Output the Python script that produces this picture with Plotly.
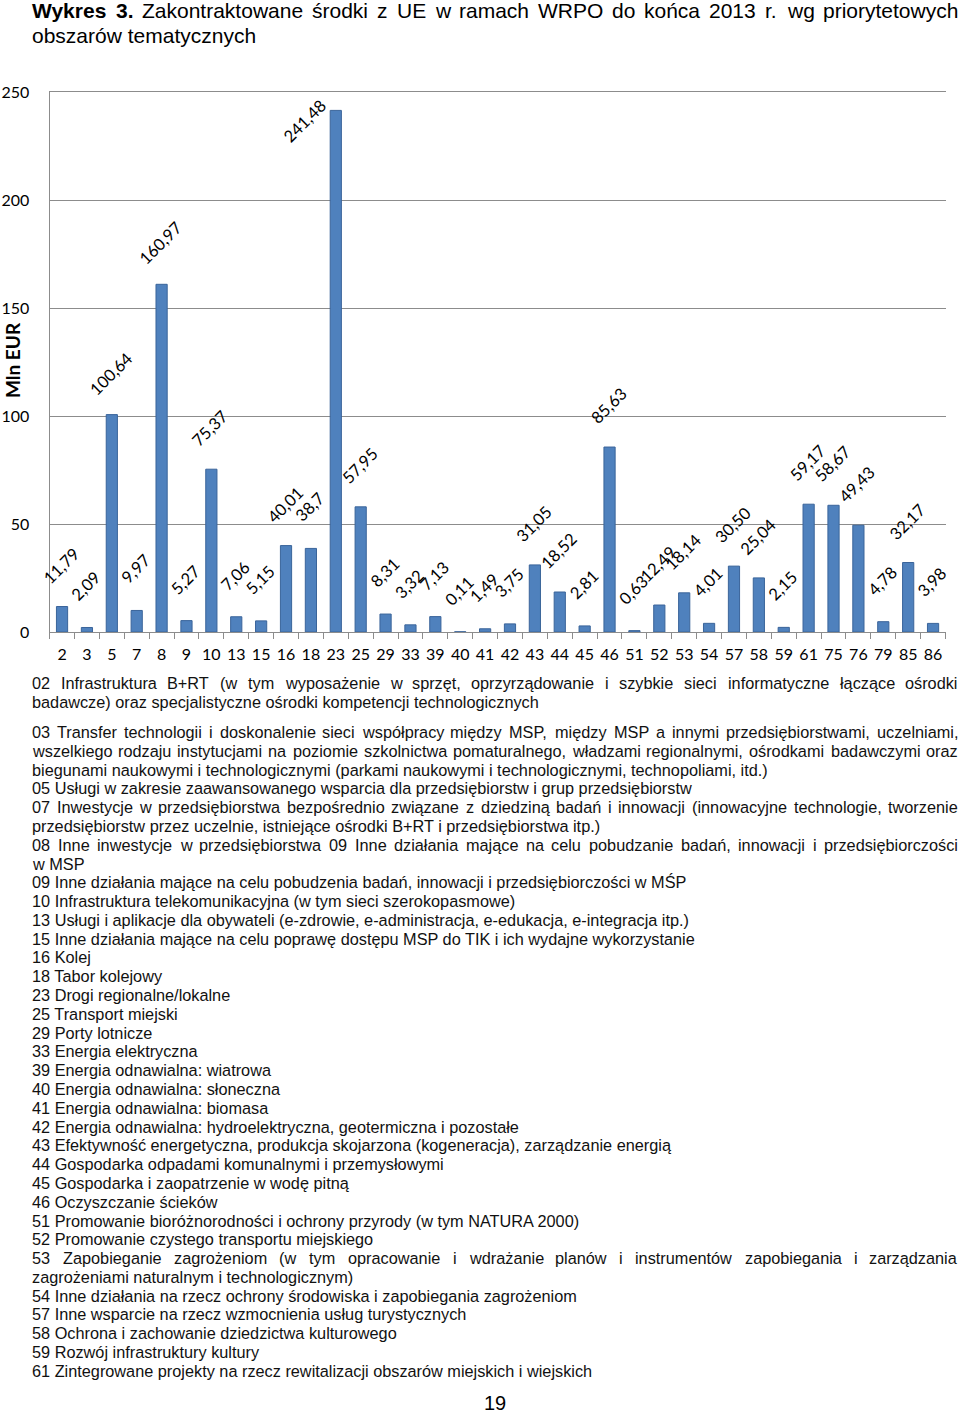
import plotly.graph_objects as go

# ---------------- data ----------------
categories = ["2", "3", "5", "7", "8", "9", "10", "13", "15", "16", "18", "23", "25",
              "29", "33", "39", "40", "41", "42", "43", "44", "45", "46", "51", "52",
              "53", "54", "57", "58", "59", "61", "75", "76", "79", "85", "86"]
values = [11.79, 2.09, 100.64, 9.97, 160.97, 5.27, 75.37, 7.06, 5.15, 40.01, 38.7,
          241.48, 57.95, 8.31, 3.32, 7.13, 0.11, 1.49, 3.75, 31.05, 18.52, 2.81,
          85.63, 0.63, 12.49, 18.14, 4.01, 30.50, 25.04, 2.15, 59.17, 58.67, 49.43,
          4.78, 32.17, 3.98]
value_labels = ["11,79", "2,09", "100,64", "9,97", "160,97", "5,27", "75,37", "7,06",
                "5,15", "40,01", "38,7", "241,48", "57,95", "8,31", "3,32", "7,13",
                "0,11", "1,49", "3,75", "31,05", "18,52", "2,81", "85,63", "0,63",
                "12,49", "18,14", "4,01", "30,50", "25,04", "2,15", "59,17", "58,67",
                "49,43", "4,78", "32,17", "3,98"]
y_ticks = [0, 50, 100, 150, 200, 250]

title_bold = "Wykres 3."
title_rest = "Zakontraktowane środki z UE w ramach WRPO do końca 2013 r. wg priorytetowych"
title_line2 = "obszarów tematycznych"
y_title = "Mln EUR"
page_number = "19"

legend_lines = [
    "02 Infrastruktura B+RT (w tym wyposażenie w sprzęt, oprzyrządowanie i szybkie sieci informatyczne łączące ośrodki",
    "badawcze) oraz specjalistyczne ośrodki kompetencji technologicznych",
    "",
    "03 Transfer technologii i doskonalenie sieci współpracy między MSP, między MSP a innymi przedsiębiorstwami, uczelniami,",
    "wszelkiego rodzaju instytucjami na poziomie szkolnictwa pomaturalnego, władzami regionalnymi, ośrodkami badawczymi oraz",
    "biegunami naukowymi i technologicznymi (parkami naukowymi i technologicznymi, technopoliami, itd.)",
    "05 Usługi w zakresie zaawansowanego wsparcia dla przedsiębiorstw i grup przedsiębiorstw",
    "07 Inwestycje w przedsiębiorstwa bezpośrednio związane z dziedziną badań i innowacji (innowacyjne technologie, tworzenie",
    "przedsiębiorstw przez uczelnie, istniejące ośrodki B+RT i przedsiębiorstwa itp.)",
    "08 Inne inwestycje w przedsiębiorstwa 09 Inne działania mające na celu pobudzanie badań, innowacji i przedsiębiorczości",
    "w MSP",
    "09 Inne działania mające na celu pobudzenia badań, innowacji i przedsiębiorczości w MŚP",
    "10 Infrastruktura telekomunikacyjna (w tym sieci szerokopasmowe)",
    "13 Usługi i aplikacje dla obywateli (e-zdrowie, e-administracja, e-edukacja, e-integracja itp.)",
    "15 Inne działania mające na celu poprawę dostępu MSP do TIK i ich wydajne wykorzystanie",
    "16 Kolej",
    "18 Tabor kolejowy",
    "23 Drogi regionalne/lokalne",
    "25 Transport miejski",
    "29 Porty lotnicze",
    "33 Energia elektryczna",
    "39 Energia odnawialna: wiatrowa",
    "40 Energia odnawialna: słoneczna",
    "41 Energia odnawialna: biomasa",
    "42 Energia odnawialna: hydroelektryczna, geotermiczna i pozostałe",
    "43 Efektywność energetyczna, produkcja skojarzona (kogeneracja), zarządzanie energią",
    "44 Gospodarka odpadami komunalnymi i przemysłowymi",
    "45 Gospodarka i zaopatrzenie w wodę pitną",
    "46 Oczyszczanie ścieków",
    "51 Promowanie bioróżnorodności i ochrony przyrody (w tym NATURA 2000)",
    "52 Promowanie czystego transportu miejskiego",
    "53 Zapobieganie zagrożeniom (w tym opracowanie i wdrażanie planów i instrumentów zapobiegania i zarządzania",
    "zagrożeniami naturalnym i technologicznym)",
    "54 Inne działania na rzecz ochrony środowiska i zapobiegania zagrożeniom",
    "57 Inne wsparcie na rzecz wzmocnienia usług turystycznych",
    "58 Ochrona i zachowanie dziedzictwa kulturowego",
    "59 Rozwój infrastruktury kultury",
    "61 Zintegrowane projekty na rzecz rewitalizacji obszarów miejskich i wiejskich",
]
justified_lines = {0, 3, 4, 7, 9, 31}

# ---------------- layout geometry (page pixels) ----------------
FW, FH = 960, 1414
PLOT_L, PLOT_R = 49.6, 945.5
PLOT_T, PLOT_B = 92, 632
TEXT_L, TEXT_R = 32, 958
YMAX = 250
px_per_unit = (PLOT_B - PLOT_T) / YMAX


def fx(xpx):
    return xpx / FW


def fy(ypx):
    return 1 - ypx / FH


# Arial / Liberation Sans advance widths (1/1000 em)
_W = {" ": 278, "!": 278, "(": 333, ")": 333, "+": 584, ",": 278, "-": 333, ".": 278,
      "/": 278, ":": 278}
_W.update({d: 556 for d in "0123456789"})
_W.update(dict(zip("ABCDEFGHIJKLMNOPQRSTUVWXYZ",
                   [667, 667, 722, 722, 667, 611, 778, 722, 278, 500, 667, 556, 833,
                    722, 778, 667, 778, 722, 667, 611, 722, 667, 944, 667, 667, 611])))
_W.update(dict(zip("abcdefghijklmnopqrstuvwxyz",
                   [556, 556, 500, 556, 556, 278, 556, 556, 222, 222, 500, 222, 833,
                    556, 556, 556, 556, 333, 500, 278, 556, 500, 722, 500, 500, 500])))
_W.update({"ą": 556, "ć": 500, "ę": 556, "ł": 222, "ń": 556, "ó": 556, "ś": 500,
           "ź": 500, "ż": 500, "Ś": 667, "Ł": 556, "Ż": 611})
# Arial Bold widths for the glyphs used in bold text
_WB = {"W": 944, "y": 556, "k": 556, "r": 389, "e": 556, "s": 556, "3": 556, ".": 278}


def text_width(s, size, bold=False):
    tab = _WB if bold else _W
    return sum(tab.get(c, _W.get(c, 556)) for c in s) * size / 1000.0


def justified(words, bold_flags, y_px, size, family):
    """Place words of one justified line as separate text annotations."""
    out = []
    widths = [text_width(w, size, b) for w, b in zip(words, bold_flags)]
    gap = (TEXT_R - TEXT_L - sum(widths)) / (len(words) - 1)
    xcur = TEXT_L
    for k, (w, wd, b) in enumerate(zip(words, widths, bold_flags)):
        txt = "<b>" + w + "</b>" if b else w
        last = k == len(words) - 1
        out.append(dict(x=fx(TEXT_R + PAD) if last else fx(xcur - PAD), y=fy(y_px),
                        xref="paper", yref="paper", text=txt, showarrow=False,
                        xanchor="right" if last else "left", yanchor="middle",
                        font=dict(family=family, size=size, color="#000" if b or size > 18 else "#111")))
        xcur += wd + gap
    return out


BAR_FILL = "#4F81BD"
BAR_EDGE = "#3A649A"
GRID = "#8C8C8C"
LEG_SIZE = 16.3
TITLE_SIZE = 21
PAD = 2  # annotation inner padding

fig = go.Figure()
fig.add_trace(go.Bar(
    x=categories, y=values,
    marker=dict(color=BAR_FILL, line=dict(color=BAR_EDGE, width=1)),
    hoverinfo="x+y",
))

annotations = []
# value labels, rotated (x given as category index)
label_center_offset = 41  # px above bar top
top_limit = YMAX - 29 / px_per_unit
for i, (v, lab) in enumerate(zip(values, value_labels)):
    if v + label_center_offset / px_per_unit > top_limit:
        yv, ys, xs = top_limit, 0, -31
    else:
        yv, ys, xs = v, label_center_offset, -1
    annotations.append(dict(x=i, y=yv, xref="x", yref="y", text=lab,
                            showarrow=False, textangle=-45, xanchor="center",
                            yanchor="middle", xshift=xs, yshift=ys,
                            font=dict(family="Lato", size=16.5, color="#000")))

# title (first line justified, as in the source document)
tw_bold = title_bold.split(" ")
tw_rest = title_rest.split(" ")
annotations += justified(tw_bold + tw_rest, [True] * len(tw_bold) + [False] * len(tw_rest),
                         11, TITLE_SIZE, "Liberation Sans")
annotations.append(dict(x=fx(TEXT_L - PAD), y=fy(35), xref="paper", yref="paper", text=title_line2,
                        showarrow=False, xanchor="left", yanchor="middle",
                        font=dict(family="Liberation Sans", size=TITLE_SIZE, color="#000")))
annotations.append(dict(x=fx(12), y=fy(360), xref="paper", yref="paper", text="<b>" + y_title + "</b>",
                        showarrow=False, textangle=-90, xanchor="center", yanchor="middle",
                        font=dict(family="Lato", size=19, color="#000")))

# legend text lines
leg_font = dict(family="Liberation Sans", size=LEG_SIZE, color="#111")
for i, line in enumerate(legend_lines):
    if not line:
        continue
    yy = 683 + i * 18.75 if i < 3 else 732 + (i - 3) * 18.79
    if i in justified_lines:
        words = line.split(" ")
        annotations += justified(words, [False] * len(words), yy, LEG_SIZE, "Liberation Sans")
    else:
        annotations.append(dict(x=fx(TEXT_L - PAD), y=fy(yy), xref="paper", yref="paper", text=line,
                                showarrow=False, xanchor="left", yanchor="middle", font=leg_font))

annotations.append(dict(x=fx(495), y=fy(1403), xref="paper", yref="paper", text=page_number,
                        showarrow=False, xanchor="center", yanchor="middle",
                        font=dict(family="Liberation Sans", size=20, color="#000")))

fig.update_layout(
    width=FW, height=FH,
    autosize=False,
    margin=dict(l=0, r=0, t=0, b=0, pad=0),
    paper_bgcolor="white", plot_bgcolor="white",
    showlegend=False,
    bargap=0.55,
    annotations=annotations,
    xaxis=dict(
        domain=[fx(PLOT_L), fx(PLOT_R)],
        type="category",
        range=[-0.5, len(categories) - 0.5],
        automargin=False,
        tickangle=0,
        showline=True, linecolor=GRID, linewidth=1, mirror=True,
        ticks="outside", tickson="boundaries", ticklen=6, tickcolor=GRID,
        tickfont=dict(family="Lato", size=16, color="#000"),
        ticklabelstandoff=8,
        showgrid=False,
    ),
    yaxis=dict(
        domain=[fy(PLOT_B), fy(PLOT_T)],
        range=[0, YMAX],
        automargin=False,
        tickvals=y_ticks,
        showline=True, linecolor=GRID, linewidth=1,
        showgrid=True, gridcolor=GRID, gridwidth=1,
        zeroline=False,
        tickfont=dict(family="Lato", size=16, color="#000"),
        ticklabelstandoff=16,
    ),
)

fig.write_html("out.html",
               config={"displayModeBar": False},
               post_script="document.body.style.margin='0';document.body.style.overflow='hidden';")
